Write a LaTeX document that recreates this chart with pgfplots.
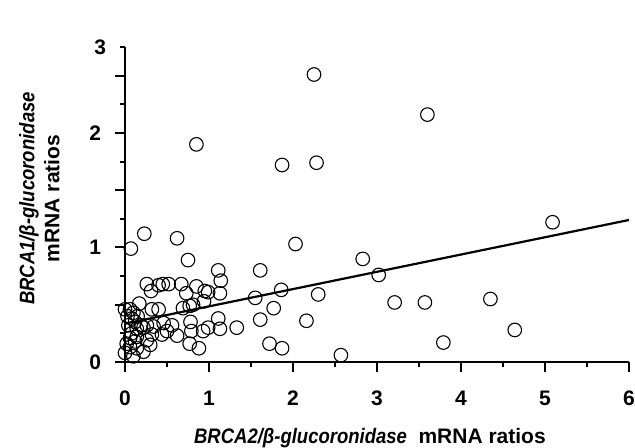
\documentclass[border=0pt]{standalone}
\usepackage{fontspec}
\setmainfont{Liberation Sans}
\usepackage{graphicx}
\usepackage{pgfplots}
\pgfplotsset{compat=1.18}
\newcommand{\gene}[1]{\scalebox{0.88}[1]{\bfseries\itshape #1}}

\pgfplotstableread{
x y
5.09 1.22
2.03 1.03
1.61 0.80
2.83 0.90
3.02 0.76
1.86 0.63
1.55 0.56
2.30 0.59
1.77 0.47
1.61 0.37
2.16 0.36
3.21 0.52
3.57 0.52
4.35 0.55
1.72 0.16
1.87 0.12
2.57 0.06
3.79 0.17
4.64 0.28
0.85 1.90
1.87 1.72
2.28 1.74
2.25 2.51
3.60 2.16
0.23 1.12
0.07 0.99
0.62 1.08
0.75 0.89
1.11 0.80
1.14 0.71
0.26 0.68
0.31 0.62
0.40 0.67
0.45 0.68
0.52 0.68
0.67 0.68
0.73 0.60
0.85 0.66
0.95 0.62
0.99 0.61
1.13 0.60
0.94 0.53
0.17 0.51
0.32 0.46
0.40 0.46
0.69 0.47
0.77 0.49
0.81 0.50
0.78 0.35
0.79 0.27
0.93 0.27
0.99 0.30
1.11 0.38
1.13 0.29
1.33 0.30
0.77 0.16
0.88 0.12
0.62 0.23
0.56 0.32
0.46 0.34
0.50 0.27
0.44 0.24
0.34 0.31
0.26 0.32
0.22 0.30
0.32 0.24
0.26 0.19
0.30 0.15
0.22 0.09
0.14 0.12
0.06 0.13
0.00 0.08
0.10 0.05
0.06 0.21
0.14 0.22
0.08 0.25
0.00 0.46
0.06 0.46
0.10 0.43
0.08 0.38
0.12 0.35
0.04 0.32
0.14 0.29
0.19 0.32
0.03 0.40
0.15 0.40
0.02 0.16
0.12 0.18
}\scatterdata

\begin{document}
\begin{tikzpicture}
\begin{axis}[
    scale only axis,
    width=252pt, height=157.5pt,
    xmin=0, xmax=6, ymin=0, ymax=2.75,
    axis lines*=left,
    axis line style={line width=1pt},
    clip=false,
    xtick={0,1,...,6},
    minor xtick={0.5,1.5,...,5.5},
    ytick={0,0.5,...,2.5},
    yticklabels={0,,1,,2,},
    minor ytick={0.25,0.75,...,2.75},
    extra y ticks={2.75},
    extra y tick labels={3},
    extra y tick style={major tick length=2.5pt},
    tick align=outside,
    major tick length=5pt,
    minor tick length=2.5pt,
    tick style={line width=1pt, black},
    tick label style={font=\bfseries\fontsize{10.5}{11}\selectfont},
    xticklabel style={yshift=-6pt},
    yticklabel style={xshift=-3.5pt},
    /pgf/number format/assume math mode=true,
    xlabel={\gene{BRCA2/β-glucoronidase}\ \ \textbf{mRNA ratios}},
    xlabel style={at={(axis description cs:0.486,0)}, anchor=north, yshift=-33pt,
        inner sep=0pt, font=\fontsize{10.5}{11}\selectfont},
    ylabel={\gene{BRCA1/β-glucoronidase}\\\textbf{mRNA ratios}},
    ylabel style={at={(axis description cs:-0.129,0.519)}, anchor=south, rotate=0,
        inner sep=0pt, align=center, font=\fontsize{10.5}{12.5}\selectfont},
]
\addplot[only marks, mark=o, mark size=3.4pt, mark options={line width=0.55pt, black}]
    table[x=x, y=y] {\scatterdata};
\addplot[line width=1.1pt, black, no marks] coordinates {(0,0.335) (6,1.24)};
\end{axis}
\pgfresetboundingbox
\path[use as bounding box] (-62.5pt,-42.5pt) rectangle (255pt,181pt);
\end{tikzpicture}
\end{document}
